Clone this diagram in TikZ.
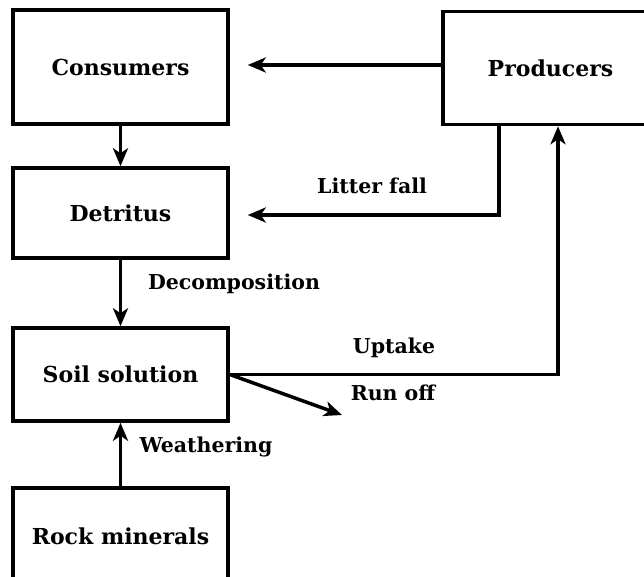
\documentclass[tikz,border=0pt]{standalone}
\usepackage{fontspec}
\setmainfont{DejaVu Serif}
\usetikzlibrary{arrows.meta}
\begin{document}
\begin{tikzpicture}[x=1pt,y=-1pt,
  box/.style={draw,line width=3.5pt,minimum width=215pt,inner sep=0pt,font=\bfseries\fontsize{22}{26}\selectfont},
  lbl/.style={font=\bfseries\fontsize{20.5}{24}\selectfont,inner sep=0pt},
  arr/.style={line width=3.5pt,-{Stealth[length=18pt,width=15pt,inset=5pt]}}]
\useasboundingbox (0,0) rectangle (644,577);
\node[box,minimum height=114pt] (cons) at (120.5,67) {Consumers};
\node[box,minimum height=113pt,minimum width=215pt] (prod) at (550.5,68) {Producers};
\node[box,minimum height=90pt] (det) at (120.5,213) {Detritus};
\node[box,minimum height=93pt] (soil) at (120.5,374.5) {Soil solution};
\node[box,minimum height=100pt] (rock) at (120.5,538) {\raisebox{3pt}{Rock minerals}};
\coordinate (lf) at (499,215);
\coordinate (up) at (558,374.5);
\coordinate (ro) at (342,415);
\coordinate (ct) at (0,65);
\draw[arr,shorten >=18pt] (prod.west |- ct) -- (cons.east |- ct);
\draw[arr] (cons.south) -- (det.north);
\draw[arr,shorten >=18pt] (prod.south -| lf) -- (lf) -- (det.east |- lf);
\draw[arr] (det.south) -- (soil.north);
\draw[arr] (soil.east) -- (up) -- (prod.south -| up);
\draw[arr] (soil.east) -- (ro);
\draw[arr] (rock.north) -- (soil.south);
\node[lbl] (tlf) at (372,186) {Litter fall};
\node[lbl] (tdec) at (234,284) {Decomposition};
\node[lbl] (tup) at (394,348) {Uptake};
\node[lbl] (tro) at (393,393) {Run off};
\node[lbl] (tw) at (206,447) {Weathering};
\end{tikzpicture}
\end{document}
